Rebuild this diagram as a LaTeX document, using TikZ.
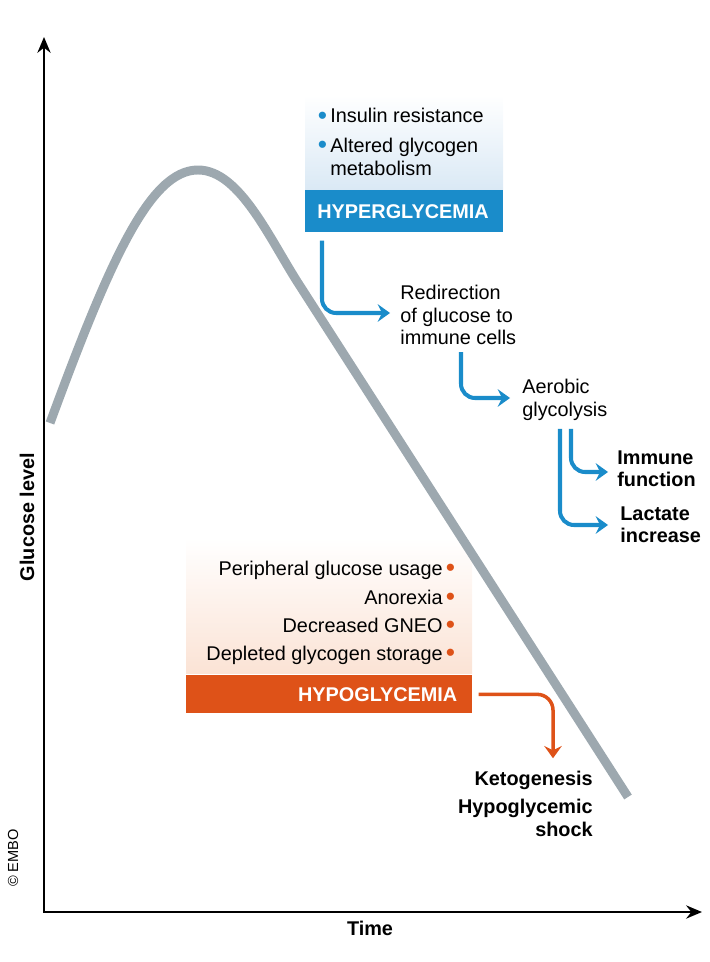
\documentclass[tikz,border=0pt]{standalone}
\usepackage{fontspec}
\setmainfont{Liberation Sans}
\usetikzlibrary{arrows.meta,calc}
\definecolor{hyperblue}{RGB}{26,140,202}
\definecolor{hyperpale}{RGB}{218,233,245}
\definecolor{hypoorange}{RGB}{222,82,24}
\definecolor{hypopale}{RGB}{251,227,213}
\definecolor{curvegrey}{RGB}{157,168,175}
\newcommand{\hdot}[1]{\textcolor{#1}{\raisebox{-0.6pt}{\fontsize{15}{15}\selectfont•}}}

\begin{document}
\begin{tikzpicture}[x=0.02cm,y=-0.02cm,
    txt/.style={inner sep=0pt,font=\fontsize{11.3}{12.8}\selectfont},
    bold/.style={inner sep=0pt,font=\fontsize{11.3}{12.8}\selectfont\bfseries},
    flow/.style={hyperblue,line width=2.3pt,rounded corners=8pt,-{Stealth[length=7pt,width=10pt,inset=2.5pt]}},
    drop/.style={hypoorange,line width=2pt,rounded corners=9pt,-{Stealth[length=7pt,width=10pt,inset=2.5pt]}},
    axis/.style={line width=1.4pt,{Stealth[length=9pt,width=7.5pt]}-{Stealth[length=9pt,width=7.5pt]}}]
  \useasboundingbox (0,0) rectangle (709,962);
  \shade[top color=white,bottom color=hyperpale] (305,95) rectangle (503,190);
  \shade[top color=white,bottom color=hypopale] (186,538) rectangle (472,673);
  \draw[curvegrey,line width=5.1pt] (50,423) .. controls (110,260) and (150,170) .. (198,170)
    .. controls (240,170) and (270,240) .. (300,286) -- (628,797);
  \coordinate (origin) at (44,912);
  \draw[axis] (44,37) -- (origin) -- (702,912);
  \node (time) [bold] at (370,928) {Time};
  \node (level) [bold,rotate=90] at (27,517) {Glucose level};
  \node (embo) [inner sep=0pt,font=\fontsize{8.3}{10}\selectfont,rotate=90] at (13,858) {© EMBO};

  \node (hyper) [fill=hyperblue,text=white,font=\fontsize{11.3}{12.8}\selectfont\bfseries,anchor=north west,
    inner xsep=0.24cm,text width=3.48cm,align=left,minimum height=0.84cm] at (305,190) {HYPERGLYCEMIA};
  \node (insulin) [txt,anchor=base west] at (330,123) {\llap{\hdot{hyperblue}\,}Insulin resistance};
  \node (altered) [txt,anchor=west,align=left] at (330,157) {\llap{\hdot{hyperblue}\,}Altered glycogen\\metabolism};
  \node (redir) [txt,anchor=west,align=left] at (400,315) {Redirection\\of glucose to\\immune cells};
  \node (aero) [txt,anchor=west,align=left] at (522,400) {Aerobic\\glycolysis};
  \node (immune) [bold,anchor=west,align=left] at (617,469) {Immune\\function};
  \node (lactate) [bold,anchor=west,align=left] at (620,525) {Lactate\\increase};
  \draw[flow] ($(hyper.south west)+(17,8)$) |- ($(redir.west)+(-10,-2)$);
  \draw[flow] ($(redir.south west)+(61,7)$) |- ($(aero.west)+(-12,-2)$);
  \draw[flow] ($(aero.south west)+(49,8)$) |- ($(immune.west)+(-9,3)$);
  \draw[flow] ($(aero.south west)+(38,8)$) |- ($(lactate.west)+(-12,0)$);

  \node (peripheral) [txt,anchor=base east] at (443,575) {Peripheral glucose usage\rlap{\,\hdot{hypoorange}}};
  \node (anorexia) [txt,anchor=base east] at (443,604) {Anorexia\rlap{\,\hdot{hypoorange}}};
  \node (gneo) [txt,anchor=base east] at (443,632) {Decreased GNEO\rlap{\,\hdot{hypoorange}}};
  \node (depleted) [txt,anchor=base east] at (443,660) {Depleted glycogen storage\rlap{\,\hdot{hypoorange}}};
  \node (hypo) [fill=hypoorange,text=white,font=\fontsize{11.3}{12.8}\selectfont\bfseries,anchor=north west,
    inner xsep=0.3cm,text width=5.12cm,align=right,minimum height=0.76cm] at (186,675) {HYPOGLYCEMIA};
  \node (keto) [bold,anchor=base east] at (593,785) {Ketogenesis};
  \node (shock) [bold,anchor=east,align=right] at (593,818) {Hypoglycemic\\shock};
  \draw[drop] ($(hypo.east)+(6,0)$) -| ($(keto.north east)+(-40,-12)$);
\end{tikzpicture}
\end{document}
